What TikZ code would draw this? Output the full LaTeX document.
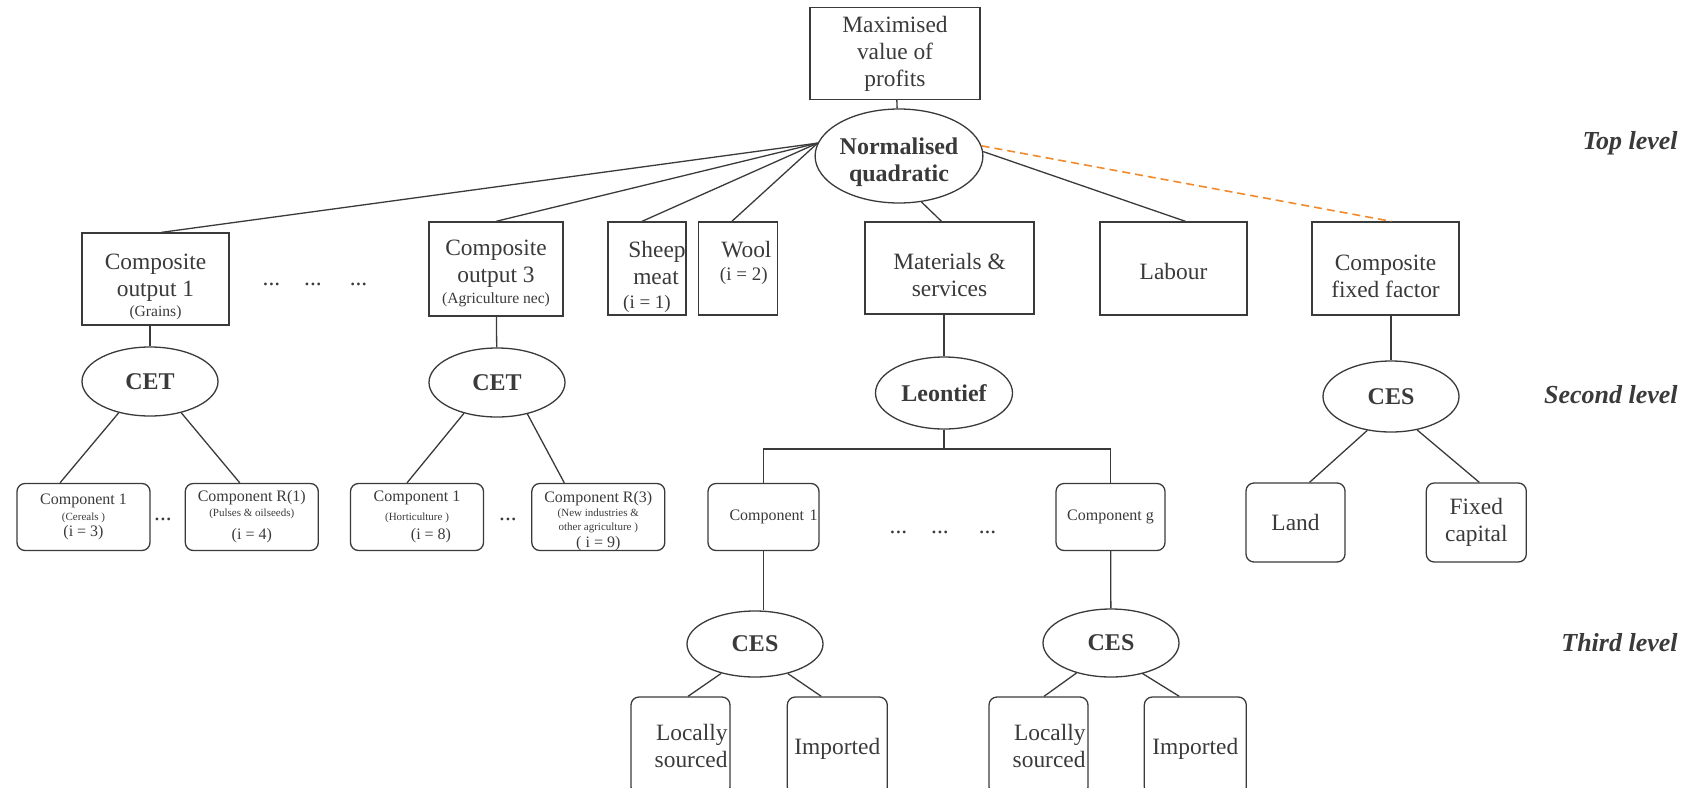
\documentclass[tikz,border=0pt]{standalone}
\usepackage{fontspec}
\setmainfont{Liberation Serif}
\usetikzlibrary{shapes.geometric, positioning}
\definecolor{inkt}{HTML}{3A3A3A}
\definecolor{oranje}{HTML}{F28A2B}
\newcommand{\gewoon}{\fontsize{11.7}{13.5}\selectfont}
\newcommand{\middel}{\fontsize{7.8}{9}\selectfont}
\newcommand{\compfont}{\fontsize{8}{9.5}\selectfont}
\newcommand{\klein}{\fontsize{5.5}{6.5}\selectfont}
\newcommand{\steun}[1]{\rule{0pt}{#1}}
\tikzset{
    %Define style for boxes
    kader/.style={
           rectangle,
           draw=inkt, line width=0.65pt,
           text=inkt,
           inner sep=0pt,
           align=center,
           font=\gewoon},
    % rounded boxes of the lower levels
    blok/.style={
           kader,
           rounded corners=4pt},
    % Define style for the functional forms
    ovaal/.style={
           ellipse,
           draw=inkt, line width=0.65pt,
           text=inkt,
           inner sep=0pt,
           minimum width=68pt,
           minimum height=34.5pt,
           align=center,
           font=\bfseries\fontsize{12}{13.5}\selectfont},
    % Define line style
    lijn/.style={
           -,
           draw=inkt,
           line width=0.65pt}
}

\begin{document}
\begin{tikzpicture}[x=0.5pt, y=-0.5pt, node distance=0pt]
\useasboundingbox (0,0) rectangle (1691,787);

% Style for the level labels
\tikzstyle{niveau}=[anchor=east, inner sep=0pt, text=inkt, font=\bfseries\itshape\fontsize{13}{15}\selectfont]
% Styles for the box sizes
\tikzstyle{breed}=[kader, minimum width=73.5pt, minimum height=46.5pt]
\tikzstyle{smal}=[kader, minimum width=39pt, minimum height=46.5pt]
\tikzstyle{onderdeel}=[blok, minimum width=66.5pt, minimum height=33.5pt, font=\compfont]
\tikzstyle{bron}=[blok, minimum width=49.5pt, minimum height=49pt]
\tikzstyle{puntjes}=[text=inkt, inner sep=0pt, font=\gewoon]

% top of the tree
\node[kader, minimum width=85pt, minimum height=46pt] (winst) at (895,53.5) {Maximised\\value of\\profits};
\node[ovaal, minimum width=81.5pt, minimum height=47pt] (nq) at (899,156) {\steun{15pt}Normalised\\quadratic};

% outputs and inputs
\node[breed, minimum height=46pt] (co1) at (155.5,279) {\steun{15.5pt}Composite\\output 1\\[-3.5pt]{\middel (Grains)}};
\node[puntjes] (dots1) at (315,284) {...\hspace{12pt}...\hspace{14pt}...};
\node[breed, minimum width=67pt, minimum height=47pt] (co3) at (496,269) {\steun{12.3pt}Composite\\output 3\\[-3pt]{\middel (Agriculture nec)}};
\node[smal] (sheep) at (647,268.5) {\steun{16.5pt}Sheep\hspace*{-10pt}\\\hspace*{9pt}meat\\[-1.5pt]{\fontsize{9.5}{11}\selectfont (i = 1)}};
\node[smal, minimum width=39.5pt] (wool) [right = 5.5pt of sheep] {Wool\hspace*{-8.6pt}\\[-2pt]{\fontsize{9.5}{11}\selectfont (i = 2)\rule[-7.5pt]{0pt}{7.5pt}}\hspace*{-6pt}};
\node[kader, minimum width=84.5pt, minimum height=46pt] (mat) at (949.5,268) {\steun{15.5pt}Materials \&\\services};
\node[breed] (lab) at (1173.5,268.5) {\steun{11.2pt}Labour};
\node[breed] (cff) at (1385.5,268.5) {\steun{15.5pt}Composite\\fixed factor};

% second level
\node[ovaal] (cet1) at (150,381.5) {CET};
\node[ovaal] (cet2) at (497,382.5) {CET};
\node[ovaal, minimum width=68.5pt, minimum height=36pt] (leon) at (944,393) {Leontief};
\node[ovaal, minimum height=35.5pt] (ces0) at (1391,396.5) {CES};

% components
\node[onderdeel] (c11) at (83.5,517) {Component 1\\[-1.5pt]{\klein (Cereals )}\\[-1.5pt](i = 3)};
\node[onderdeel] (c1r) [right = 17pt of c11] {Component R(1)\\[-2pt]{\klein (Pulses \& oilseeds)}\\[2pt](i = 4)};
\node[puntjes] (dots2) at (163,519) {...};
\node[onderdeel] (c31) at (417,517) {Component 1\\{\klein (Horticulture )}\hspace*{8pt}\\\hspace*{14pt}(i = 8)};
\node[onderdeel] (c3r) [right = 23.5pt of c31] {\steun{9.3pt}Component R(3)\\[-2.5pt]{\klein (New industries \&}\\[-2.5pt]{\klein other agriculture )}\\[-1pt]( i = 9)};
\node[puntjes] (dots3) at (508,519) {...};
\node[onderdeel, minimum width=55.5pt, text width=54pt, align=right] (g1) at (763.5,517) {Component 1};
\node[onderdeel, minimum width=54.5pt] (gg) at (1110.5,517) {Component g};
\node[puntjes] (dots4) at (943,532) {...\hspace{12pt}...\hspace{15pt}...};
\node[bron, minimum height=39.5pt] (land) at (1295.5,522.5) {Land};
\node[bron, minimum width=50pt, minimum height=39.5pt] (fcap) [right = 40pt of land] {Fixed\\capital};

% third level
\node[ovaal, minimum height=33pt] (ces1) at (755,644) {CES};
\node[ovaal, minimum height=34pt] (ces2) at (1111,643) {CES};
\node[bron, text width=47pt, align=right] (ls1) at (680.5,746) {Locally\\sourced};
\node[bron, minimum width=50pt] (imp1) [right = 28pt of ls1] {\steun{10.5pt}Imported};
\node[bron, text width=47pt, align=right] (ls2) at (1038.5,746) {Locally\\sourced};
\node[bron, minimum width=51pt] (imp2) [right = 27.5pt of ls2] {\steun{10.5pt}Imported};

% level labels
\node[niveau] (top) at (1678,143) {Top level};
\node[niveau] (second) at (1678,395) {Second level};
\node[niveau] (third) at (1678,643) {Third level};

\coordinate (vork) at (944,449);

\path
% top of the tree
(winst) edge[lijn] (nq)
(nq.171) edge[lijn] ([xshift=3pt]co1.north)
(nq.171) edge[lijn] (co3.north)
(nq.171) edge[lijn] ([xshift=-2.5pt]sheep.north)
(nq.171) edge[lijn] ([xshift=-3pt]wool.north)
(nq.296) edge[lijn] ([xshift=-4pt]mat.north)
(nq.3) edge[lijn] ([xshift=6pt]lab.north)
(nq.7) edge[lijn, draw=oranje, line width=0.8pt, dash pattern=on 4pt off 2.5pt] ([xshift=3pt]cff.north)
% second level
(cet1.north |- co1.south) edge[lijn] (cet1.north)
(co3) edge[lijn] (cet2)
(leon.north |- mat.south) edge[lijn] (leon.north)
(ces0.north |- cff.south) edge[lijn] (ces0.north)
(cet1.225) edge[lijn] ([xshift=-11.75pt]c11.north)
(cet1.315) edge[lijn] ([xshift=-6pt]c1r.north)
(cet2.223) edge[lijn] ([xshift=-5pt]c31.north)
(cet2.314) edge[lijn] ([xshift=-17pt]c3r.north)
(ces0.235) edge[lijn] ([xshift=7pt]land.north)
(ces0.308) edge[lijn] ([xshift=1.5pt]fcap.north)
% third level
(g1.south) edge[lijn] (g1.south |- ces1.north)
(gg) edge[lijn] (ces2)
(ces1.221) edge[lijn] ([xshift=3.75pt]ls1.north)
(ces1.318) edge[lijn] ([xshift=-8pt]imp1.north)
(ces2.221) edge[lijn] ([xshift=2.75pt]ls2.north)
(ces2.316) edge[lijn] ([xshift=-8pt]imp2.north);

% Leontief fork
\draw[lijn] (leon) -- (vork);
\draw[lijn] (g1.north) |- (vork) -| (gg.north);

\end{tikzpicture}
\end{document}
